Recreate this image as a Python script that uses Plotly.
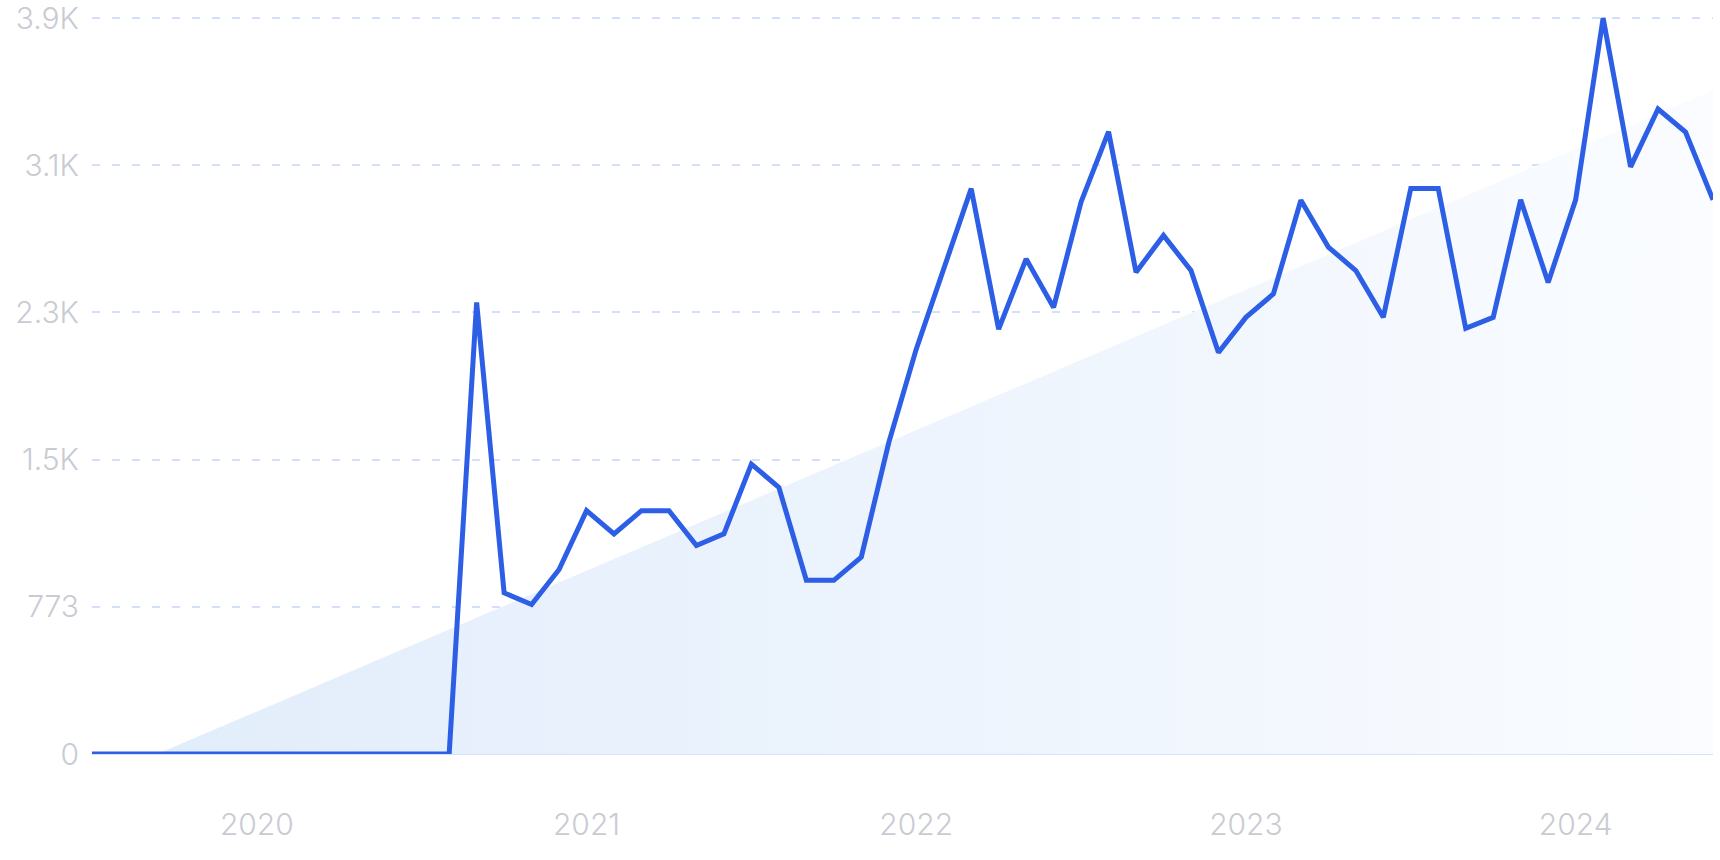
import plotly.graph_objects as go

# Monthly categories: Jul 2019 .. Jun 2024
months = [f"{2019 + (6 + k) // 12}-{(6 + k) % 12 + 1:02d}" for k in range(60)]

values = [0] * 14 + [
    2371, 846, 785, 969, 1278, 1156, 1278, 1278, 1095, 1156,
    1522, 1400, 912, 912, 1034, 1635, 2126, 2539, 2969, 2231,
    2600, 2345, 2899, 3268, 2530, 2723, 2539, 2108, 2293, 2416,
    2908, 2662, 2539, 2293, 2970, 2970, 2235, 2293, 2910, 2476,
    2910, 3865, 3083, 3387, 3266, 2910,
]

# linear trend (value at first and last month)
trend_first = -146
trend_last = 3485

year_labels = ["2020", "2021", "2022", "2023", "2024"]
ytick_vals = [0, 773, 1546, 2319, 3092, 3865]
ytick_labels = ["0", "773", "1.5K", "2.3K", "3.1K", "3.9K"]

n = len(months)
xs = list(range(n))
x_last = n - 1
x_cross = (0 - trend_first) / (trend_last - trend_first) * x_last
year_ticks = [i for i, m in enumerate(months) if m.endswith("-01") and m[:4] in year_labels]

# layout geometry: plot from y=10 to y=754 px, top tick placed at y≈18 px
top_m, bot_m = 10, 106
plot_h = 860 - top_m - bot_m
y_top = ytick_vals[-1] * plot_h / (plot_h - 8)

fig = go.Figure()
fig.add_trace(go.Scatter(
    x=[x_cross, x_last], y=[0, trend_last],
    mode="lines", line=dict(width=0),
    fill="tozeroy",
    fillgradient=dict(type="horizontal",
                      colorscale=[[0, "#e2edfb"], [0.5, "#edf4fd"], [1, "#fafcff"]]),
    hoverinfo="skip",
))
fig.add_trace(go.Scatter(
    x=xs, y=values, mode="lines",
    line=dict(color="#2d5ee6", width=5),
    cliponaxis=False,
))

tickfont = dict(family="Inter", size=30, color="#c9cbd3", weight=300)
fig.update_layout(
    width=1720, height=860,
    margin=dict(l=92, r=7, t=top_m, b=bot_m),
    paper_bgcolor="white", plot_bgcolor="white",
    showlegend=False,
)
fig.update_xaxes(
    range=[0, x_last], tickvals=year_ticks, automargin=False,
    ticktext=year_labels, showgrid=False, zeroline=False, showline=False,
    ticks="", ticklabelstandoff=50, tickfont=tickfont, ticklabeloverflow="allow",
)
fig.update_yaxes(
    range=[0, y_top], tickvals=ytick_vals, ticktext=ytick_labels, automargin=False,
    showgrid=True, gridcolor="#d3dffb", gridwidth=1.5, griddash="8px,12px",
    zeroline=True, zerolinecolor="#d4e2fa", zerolinewidth=2,
    showline=False, ticks="", ticklabelstandoff=12, tickfont=tickfont,
    ticklabeloverflow="allow",
)
fig.write_html("out.html", config={"displayModeBar": False})
